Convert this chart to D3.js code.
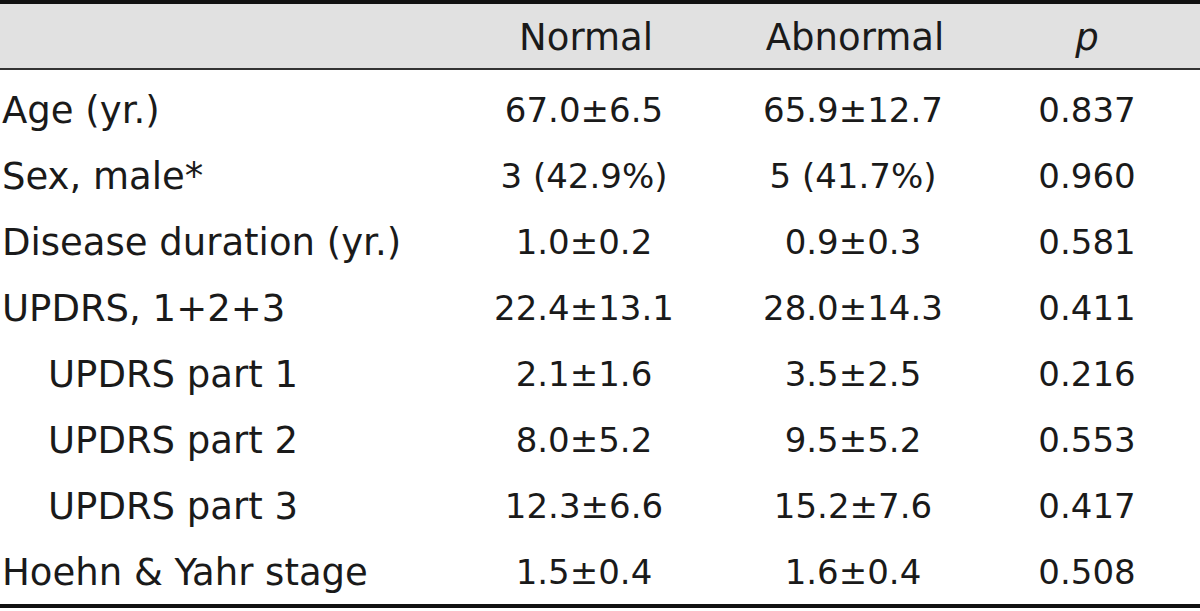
<!DOCTYPE html>
<html>
<head>
<meta charset="utf-8">
<script src="https://cdn.jsdelivr.net/npm/d3@7"></script>
<style>
  body { margin: 0; background: #fff; }
  svg text { font-family: "DejaVu Sans", sans-serif; fill: #1a1a1a; }
</style>
</head>
<body>
<div id="vis"></div>
<script>
// table contents
const columns = ["Normal", "Abnormal", "p"];
const rowLabels = ["Age (yr.)", "Sex, male*", "Disease duration (yr.)", "UPDRS, 1+2+3",
  "UPDRS part 1", "UPDRS part 2", "UPDRS part 3", "Hoehn & Yahr stage"];
const indented = [false, false, false, false, true, true, true, false];
const normalVals = ["67.0±6.5", "3 (42.9%)", "1.0±0.2", "22.4±13.1", "2.1±1.6", "8.0±5.2", "12.3±6.6", "1.5±0.4"];
const abnormalVals = ["65.9±12.7", "5 (41.7%)", "0.9±0.3", "28.0±14.3", "3.5±2.5", "9.5±5.2", "15.2±7.6", "1.6±0.4"];
const pVals = ["0.837", "0.960", "0.581", "0.411", "0.216", "0.553", "0.417", "0.508"];

const width = 1200, height = 611;
const headerTop = 4, headerBottom = 69;

const svg = d3.select("#vis").append("svg")
    .attr("width", width)
    .attr("height", height);

// column centres
const x = d3.scaleOrdinal()
    .domain(columns)
    .range([584, 853, 1087]);

const y = d3.scaleBand()
    .domain(d3.range(rowLabels.length))
    .range([77, 605]);

// header band and rules
svg.append("rect")
    .attr("x", 0).attr("y", headerTop)
    .attr("width", width).attr("height", headerBottom - headerTop)
    .attr("fill", "#e1e1e1");

svg.append("rect").attr("x", 0).attr("y", 0).attr("width", width).attr("height", 4).attr("fill", "#111");
svg.append("rect").attr("x", 0).attr("y", headerBottom - 1).attr("width", width).attr("height", 2).attr("fill", "#333");
svg.append("rect").attr("x", 0).attr("y", 604).attr("width", width).attr("height", 4).attr("fill", "#111");

svg.selectAll(".head")
    .data(columns)
    .enter().append("text")
    .attr("class", "head")
    .attr("x", (d) => x(d) + (d === "Normal" ? 2 : d === "Abnormal" ? 2 : 0))
    .attr("y", 37)
    .attr("dy", "0.35em")
    .attr("text-anchor", "middle")
    .style("font-size", "37px")
    .style("font-style", (d) => d === "p" ? "italic" : null)
    .text((d) => d);

const rows = svg.selectAll(".row")
    .data(rowLabels.map((l, i) => ({ label: l, i: i, vals: [normalVals[i], abnormalVals[i], pVals[i]] })))
    .enter().append("g")
    .attr("class", "row")
    .attr("transform", (d) => "translate(0," + (y(d.i) + y.bandwidth() / 2) + ")");

rows.append("text")
    .attr("x", (d) => indented[d.i] ? 48 : 2)
    .attr("dy", "0.35em")
    .style("font-size", "37px")
    .text((d) => d.label);

rows.selectAll(".cell")
    .data((d) => d.vals.map((v, j) => ({ v: v, col: columns[j] })))
    .enter().append("text")
    .attr("class", "cell")
    .attr("x", (d) => x(d.col))
    .attr("dy", "0.35em")
    .attr("text-anchor", "middle")
    .style("font-size", "34px")
    .text((d) => d.v);
</script>
</body>
</html>
